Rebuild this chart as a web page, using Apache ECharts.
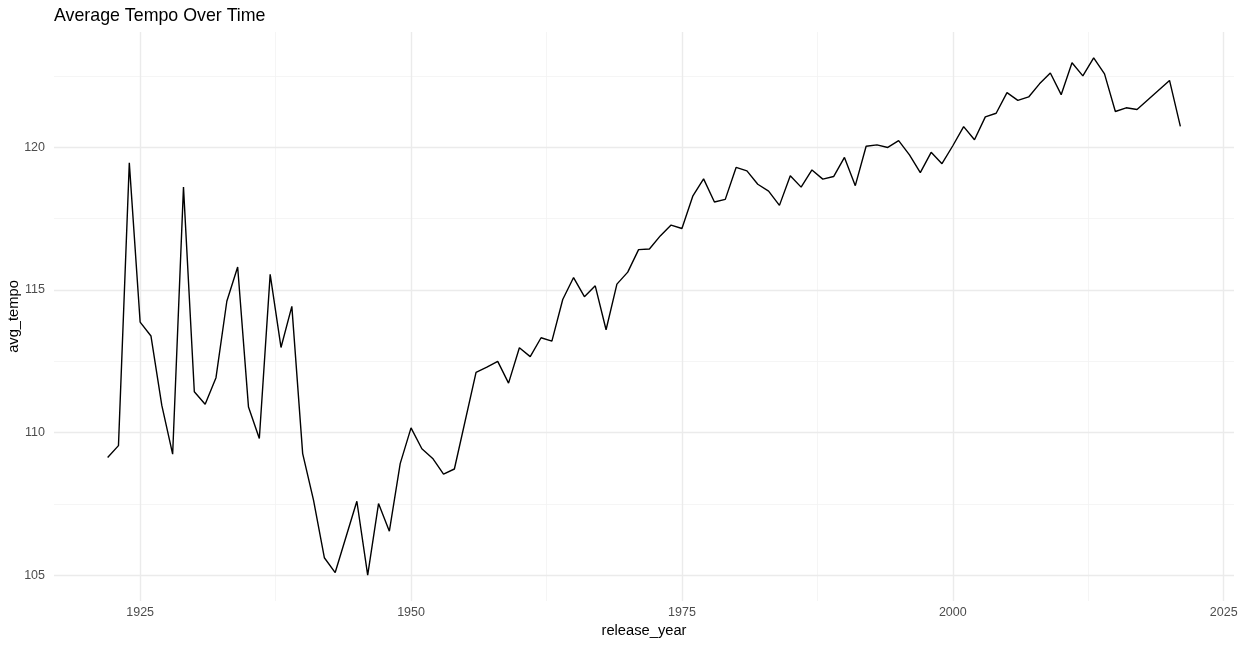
<!DOCTYPE html>
<html>
<head>
<meta charset="utf-8">
<script src="https://cdn.jsdelivr.net/npm/echarts@6/dist/echarts.min.js"></script>
<style>
html,body{margin:0;padding:0;background:#fff;}
#chart{width:1243px;height:646px;}
</style>
</head>
<body>
<div id="chart"></div>
<script>
const years = [1922,1923,1924,1925,1926,1927,1928,1929,1930,1931,1932,1933,1934,1935,1936,1937,1938,1939,1940,1941,1942,1943,1945,1946,1947,1948,1949,1950,1951,1952,1953,1954,1956,1957,1958,1959,1960,1961,1962,1963,1964,1965,1966,1967,1968,1969,1970,1971,1972,1973,1974,1975,1976,1977,1978,1979,1980,1981,1982,1983,1984,1985,1986,1987,1988,1989,1990,1991,1992,1993,1994,1995,1996,1997,1998,1999,2000,2001,2002,2003,2004,2005,2006,2007,2008,2009,2010,2011,2012,2013,2014,2015,2016,2017,2020,2021];
const avgTempo = [109.12,109.54,119.45,113.87,113.38,110.95,109.24,118.60,111.43,110.99,111.92,114.60,115.80,110.89,109.79,115.54,112.98,114.42,109.26,107.63,105.61,105.09,107.59,105.00,107.51,106.54,108.91,110.16,109.43,109.09,108.54,108.72,112.11,112.29,112.49,111.73,112.97,112.66,113.32,113.20,114.66,115.43,114.76,115.14,113.60,115.20,115.62,116.41,116.43,116.89,117.27,117.15,118.28,118.89,118.08,118.17,119.29,119.17,118.70,118.46,117.96,119.00,118.60,119.20,118.88,118.97,119.64,118.65,120.03,120.08,119.99,120.23,119.73,119.11,119.82,119.42,120.05,120.72,120.26,121.06,121.19,121.91,121.64,121.76,122.22,122.60,121.84,122.96,122.50,123.13,122.57,121.25,121.38,121.32,122.34,120.73];
const xMajor = [1925,1950,1975,2000,2025];
const xMinor = [1937.5,1962.5,1987.5,2012.5];
const yMajor = [105,110,115,120];
const yMinor = [107.5,112.5,117.5,122.5];

const xMinD = Math.min(...years), xMaxD = Math.max(...years);
const yMinD = Math.min(...avgTempo), yMaxD = Math.max(...avgTempo);
const xPad = (xMaxD - xMinD) * 0.05, yPad = (yMaxD - yMinD) * 0.05;

const majorStyle = {color:'#ebebeb', width:1.4, type:'solid'};
const minorStyle = {color:'#f3f3f3', width:0.8, type:'solid'};
const gridLines = []
  .concat(xMinor.map(v => ({xAxis:v, lineStyle:minorStyle})))
  .concat(yMinor.map(v => ({yAxis:v, lineStyle:minorStyle})))
  .concat(xMajor.map(v => ({xAxis:v, lineStyle:majorStyle})))
  .concat(yMajor.map(v => ({yAxis:v, lineStyle:majorStyle})));

const chart = echarts.init(document.getElementById('chart'), null, {renderer:'canvas'});
chart.setOption({
  animation:false,
  backgroundColor:'#ffffff',
  textStyle:{fontFamily:'Liberation Sans, Arial, sans-serif'},
  title:{
    text:'Average Tempo Over Time',
    left:49, top:2,
    textStyle:{fontSize:17.8, fontWeight:'normal', color:'#000000', fontFamily:'Liberation Sans, Arial, sans-serif'}
  },
  grid:{left:54, right:9, top:32, bottom:45, containLabel:false, outerBoundsMode:'none'},
  xAxis:{
    type:'value',
    min:xMinD - xPad, max:xMaxD + xPad,
    name:'release_year', nameLocation:'middle', nameGap:22,
    nameTextStyle:{fontSize:14.7, color:'#000000'},
    axisLine:{show:false}, axisTick:{show:false}, splitLine:{show:false},
    axisLabel:{customValues:xMajor, color:'#4d4d4d', fontSize:12.5, margin:5,
      formatter:v => String(v)}
  },
  yAxis:{
    type:'value',
    min:yMinD - yPad, max:yMaxD + yPad,
    name:'avg_tempo', nameLocation:'middle', nameGap:33, nameRotate:90,
    nameMoveOverlap:false,
    nameTextStyle:{fontSize:14.7, color:'#000000'},
    axisLine:{show:false}, axisTick:{show:false}, splitLine:{show:false},
    axisLabel:{customValues:yMajor, color:'#4d4d4d', fontSize:12.5, margin:9,
      formatter:v => String(v)}
  },
  series:[
    {
      type:'line', data:[], z:1, zlevel:0, silent:true,
      markLine:{silent:true, z:1, symbol:['none','none'], label:{show:false}, animation:false,
        emphasis:{disabled:true}, data:gridLines}
    },
    {
      type:'line', z:10, zlevel:0,
      data:years.map((y,i) => [y, avgTempo[i]]),
      showSymbol:false, symbol:'none',
      lineStyle:{color:'#000000', width:1.4},
      itemStyle:{color:'#000000'}
    }
  ]
});
</script>
</body>
</html>
